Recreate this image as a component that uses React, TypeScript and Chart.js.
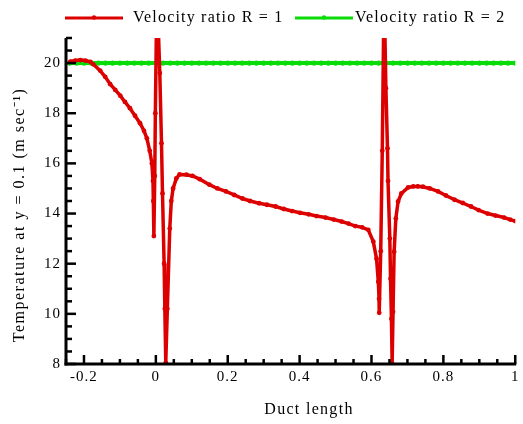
import React, { useEffect, useRef } from "react";
import { Chart, registerables } from "chart.js";

Chart.register(...registerables);

// Velocity ratio R = 1 (x = duct length, y = temperature)
const redX = [
  -0.238, -0.224, -0.21, -0.196, -0.182, -0.174, -0.155, -0.141, -0.127, -0.113,
  -0.099, -0.086, -0.072, -0.058, -0.044, -0.033, -0.025, -0.017, -0.011, -0.008,
  -0.007, -0.0055, -0.003, -0.0014, 0.003, 0.011, 0.0157, 0.0185, 0.023, 0.025,
  0.0276, 0.032, 0.0387, 0.043, 0.048, 0.057, 0.066, 0.085, 0.102, 0.122,
  0.149, 0.171, 0.195, 0.218, 0.241, 0.262, 0.287, 0.309, 0.333, 0.356,
  0.379, 0.401, 0.425, 0.447, 0.472, 0.495, 0.517, 0.536, 0.555, 0.574,
  0.591, 0.605, 0.614, 0.619, 0.621, 0.6215, 0.6257, 0.63, 0.635, 0.6401,
  0.6445, 0.646, 0.651, 0.653, 0.6555, 0.6575, 0.66, 0.663, 0.6677, 0.674,
  0.683, 0.702, 0.716, 0.729, 0.743, 0.762, 0.785, 0.807, 0.831, 0.854,
  0.877, 0.898, 0.923, 0.945, 0.969, 0.986, 1.0,
];
const redY = [
  20.06, 20.1, 20.12, 20.1, 20.05, 19.95, 19.7, 19.45, 19.16, 18.93,
  18.7, 18.45, 18.2, 17.9, 17.6, 17.3, 17.0, 16.5, 16.0, 15.3,
  14.5, 13.1, 15.5, 18.0, 23.0, 19.6, 16.8, 14.8, 12.0, 10.2,
  8.05, 10.2, 13.4, 14.5, 15.0, 15.4, 15.56, 15.55, 15.5, 15.37,
  15.15, 15.0, 14.88, 14.74, 14.6, 14.5, 14.41, 14.35, 14.28, 14.18,
  14.1, 14.03, 13.97, 13.9, 13.84, 13.76, 13.68, 13.6, 13.5, 13.45,
  13.35, 12.88, 12.2, 11.28, 10.6, 10.04, 12.5, 16.5, 23.0, 19.0,
  16.6, 15.3, 13.0, 11.4, 9.8, 8.02, 10.08, 12.48, 13.8, 14.48,
  14.8, 15.04, 15.08, 15.08, 15.07, 15.0, 14.88, 14.72, 14.55, 14.42,
  14.28, 14.14, 14.0, 13.92, 13.84, 13.76, 13.7,
];

// Velocity ratio R = 2
const greenX = [
  -0.24, -0.22, -0.2, -0.18, -0.16, -0.14, -0.12, -0.1, -0.08, -0.06,
  -0.04, -0.02, 0.0, 0.02, 0.04, 0.06, 0.08, 0.1, 0.12, 0.14,
  0.16, 0.18, 0.2, 0.22, 0.24, 0.26, 0.28, 0.3, 0.32, 0.34,
  0.36, 0.38, 0.4, 0.42, 0.44, 0.46, 0.48, 0.5, 0.52, 0.54,
  0.56, 0.58, 0.6, 0.62, 0.64, 0.66, 0.68, 0.7, 0.72, 0.74,
  0.76, 0.78, 0.8, 0.82, 0.84, 0.86, 0.88, 0.9, 0.92, 0.94,
  0.96, 0.98, 1.0,
];
const greenY = [
  20, 20, 20, 20, 20, 20, 20, 20, 20, 20,
  20, 20, 20, 20, 20, 20, 20, 20, 20, 20,
  20, 20, 20, 20, 20, 20, 20, 20, 20, 20,
  20, 20, 20, 20, 20, 20, 20, 20, 20, 20,
  20, 20, 20, 20, 20, 20, 20, 20, 20, 20,
  20, 20, 20, 20, 20, 20, 20, 20, 20, 20,
  20, 20, 20,
];

const seriesLabels = ["Velocity ratio R = 1", "Velocity ratio R = 2"];
const xTicks = [-0.2, 0, 0.2, 0.4, 0.6, 0.8, 1];
const yTicks = [8, 10, 12, 14, 16, 18, 20];
const xMin = -0.25;
const xMax = 1;
const yMin = 8;
const yMax = 21;
const xMinorStep = 0.05;
const yMinorStep = 0.5;
const xTitle = "Duct length";
const yTitle = "Temperature at y = 0.1 (m sec\u207B\u00B9)";

const RED = "rgb(220,0,0)";
const GREEN = "rgb(10,220,10)";
const FONT = "'Liberation Serif', 'Times New Roman', serif";

const spacingPlugin = {
  id: "spacing",
  beforeDraw(chart: any) {
    (chart.ctx as any).letterSpacing = "1px";
  },
};

const decorPlugin = {
  id: "decor",
  afterDraw(chart: any) {
    const { ctx, chartArea, scales } = chart;
    const { left, right, top, bottom } = chartArea;
    const xs = scales.x;
    const ys = scales.y;
    ctx.save();
    // axes lines
    ctx.strokeStyle = "#000";
    ctx.lineWidth = 3;
    ctx.beginPath();
    ctx.moveTo(left, top);
    ctx.lineTo(left, bottom + 1.5);
    ctx.stroke();
    ctx.beginPath();
    ctx.moveTo(left - 1.5, bottom);
    ctx.lineTo(right + 1, bottom);
    ctx.stroke();
    // ticks (inward)
    ctx.lineWidth = 2.5;
    const nY = Math.round((yMax - yMin) / yMinorStep);
    for (let i = 0; i <= nY; i++) {
      const v = yMin + i * yMinorStep;
      const major = yTicks.some((t) => Math.abs(t - v) < 1e-6);
      const p = ys.getPixelForValue(v);
      ctx.beginPath();
      ctx.moveTo(left, p);
      ctx.lineTo(left + (major ? 10 : 6), p);
      ctx.stroke();
    }
    const nX = Math.round((xMax - xMin) / xMinorStep);
    for (let i = 0; i <= nX; i++) {
      const v = xMin + i * xMinorStep;
      const major = xTicks.some((t) => Math.abs(t - v) < 1e-6);
      const p = xs.getPixelForValue(v);
      ctx.beginPath();
      ctx.moveTo(p, bottom);
      ctx.lineTo(p, bottom - (major ? 9 : 5));
      ctx.stroke();
    }
    // axis titles
    (ctx as any).letterSpacing = "1.3px";
    ctx.fillStyle = "#000";
    ctx.font = `16px ${FONT}`;
    ctx.textAlign = "center";
    ctx.textBaseline = "middle";
    ctx.fillText(xTitle, 309, 410);
    ctx.save();
    ctx.translate(20, 215);
    ctx.rotate(-Math.PI / 2);
    (ctx as any).letterSpacing = "1.5px";
    ctx.fillText(yTitle, 0, 0);
    ctx.restore();
    // legend
    const items = [
      { color: RED, width: 3, x0: 65, x1: 123, tx: 133, label: seriesLabels[0] },
      { color: GREEN, width: 3, x0: 295, x1: 353, tx: 355, label: seriesLabels[1] },
    ];
    const ly = 18;
    for (const it of items) {
      ctx.strokeStyle = it.color;
      ctx.lineWidth = it.width;
      ctx.beginPath();
      ctx.moveTo(it.x0, ly);
      ctx.lineTo(it.x1, ly);
      ctx.stroke();
      ctx.fillStyle = it.color;
      ctx.beginPath();
      ctx.arc((it.x0 + it.x1) / 2, ly - 0.5, 2.2, 0, Math.PI * 2);
      ctx.fill();
      ctx.fillStyle = "#000";
      ctx.font = `16px ${FONT}`;
      (ctx as any).letterSpacing = "1.2px";
      ctx.textAlign = "left";
      ctx.textBaseline = "middle";
      ctx.fillText(it.label, it.tx, ly);
    }
    ctx.restore();
  },
};

export default function App() {
  const ref = useRef<HTMLCanvasElement | null>(null);
  useEffect(() => {
    if (!ref.current) return;
    const chart = new Chart(ref.current, {
      type: "line",
      data: {
        datasets: [
          {
            label: seriesLabels[0],
            data: redX.map((x, i) => ({ x, y: redY[i] })),
            borderColor: RED,
            backgroundColor: RED,
            borderWidth: 3.5,
            pointRadius: 2.4,
            pointBorderWidth: 0,
            tension: 0,
          },
          {
            label: seriesLabels[1],
            data: greenX.map((x, i) => ({ x, y: greenY[i] })),
            borderColor: GREEN,
            backgroundColor: GREEN,
            borderWidth: 4,
            pointRadius: 2.6,
            pointBorderWidth: 0,
            tension: 0,
          },
        ],
      },
      options: {
        responsive: false,
        animation: false,
        layout: { padding: { left: 0, top: 38, right: 5, bottom: 0 } },
        plugins: { legend: { display: false }, tooltip: { enabled: false } },
        scales: {
          x: {
            type: "linear",
            min: xMin,
            max: xMax,
            grid: { display: false, drawTicks: false },
            border: { display: false },
            afterFit: (s: any) => {
              s.height = 60;
            },
            afterBuildTicks: (s: any) => {
              s.ticks = xTicks.map((v) => ({ value: v }));
            },
            ticks: {
              padding: 4,
              color: "#000",
              font: { family: FONT, size: 15 },
              callback: (v: any) => String(Math.round(Number(v) * 10) / 10),
            },
          },
          y: {
            type: "linear",
            min: yMin,
            max: yMax,
            grid: { display: false, drawTicks: false },
            border: { display: false },
            afterFit: (s: any) => {
              s.width = 66;
            },
            afterBuildTicks: (s: any) => {
              s.ticks = yTicks.map((v) => ({ value: v }));
            },
            ticks: {
              padding: 5,
              color: "#000",
              font: { family: FONT, size: 15 },
              callback: (v: any) => String(v),
            },
          },
        },
      },
      plugins: [spacingPlugin, decorPlugin],
    });
    return () => chart.destroy();
  }, []);
  return (
    <div style={{ position: "fixed", left: 0, top: 0, width: 523, height: 424, background: "#fff" }}>
      <canvas ref={ref} width={523} height={424} style={{ display: "block" }} />
    </div>
  );
}
